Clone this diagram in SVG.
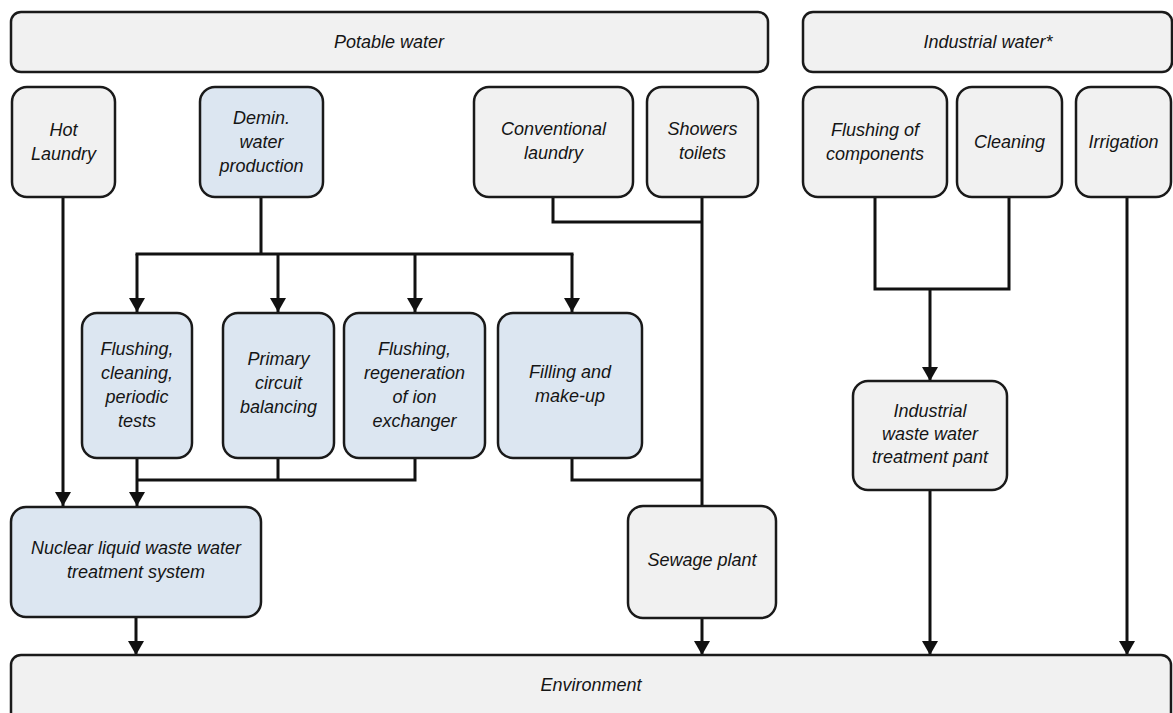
<svg xmlns="http://www.w3.org/2000/svg" width="1173" height="713" viewBox="0 0 1173 713">
  <style>
    .box { stroke: #1a1a1a; stroke-width: 2.5; }
    .grey { fill: #f1f1f1; }
    .blue { fill: #dce6f1; }
    .lbl { font-family: "Liberation Sans", Arial, sans-serif; font-style: italic; font-size: 18px; fill: #151515; text-anchor: middle; dominant-baseline: central; }
    .wire { fill: none; stroke: #111; stroke-width: 3; stroke-linejoin: miter; }
    .arrow { fill: none; stroke: #111; stroke-width: 3; marker-end: url(#head); }
  </style>
  <defs>
    <!-- filled triangular head, tip placed at the line end -->
    <marker id="head" markerUnits="userSpaceOnUse" markerWidth="14" markerHeight="16" refX="14" refY="8" orient="auto" viewBox="0 0 14 16">
      <path d="M0,0 L14,8 L0,16 Z" fill="#111"/>
    </marker>
  </defs>
  <rect width="1173" height="713" fill="#ffffff"/>

  <!-- connectors -->
  <g id="connectors">
    <!-- hot laundry to nuclear treatment -->
    <line class="arrow" x1="63" y1="197" x2="63" y2="506"/>
    <!-- demineralised water distribution -->
    <path class="wire" d="M261,197 V254 M135.5,254 H573.5"/>
    <line class="arrow" x1="137" y1="254" x2="137" y2="312"/>
    <line class="arrow" x1="278" y1="254" x2="278" y2="312"/>
    <line class="arrow" x1="415" y1="254" x2="415" y2="312"/>
    <line class="arrow" x1="572" y1="254" x2="572" y2="312"/>
    <!-- collection into nuclear treatment -->
    <path class="wire" d="M278,458 V480 M415,458 V480 M137,480 H416.5"/>
    <line class="arrow" x1="137" y1="458" x2="137" y2="506"/>
    <!-- filling and make-up to sewage -->
    <path class="wire" d="M572,458 V480 H702"/>
    <!-- conventional laundry and showers to sewage -->
    <path class="wire" d="M553,197 V222 H702"/>
    <path class="wire" d="M702,197 V506"/>
    <!-- outflows to environment -->
    <line class="arrow" x1="136" y1="617" x2="136" y2="655"/>
    <line class="arrow" x1="702" y1="618" x2="702" y2="655"/>
    <!-- industrial branch -->
    <path class="wire" d="M875,197 V289 H1009 V197"/>
    <line class="arrow" x1="930" y1="289" x2="930" y2="381"/>
    <line class="arrow" x1="930" y1="490" x2="930" y2="655"/>
    <line class="arrow" x1="1127" y1="197" x2="1127" y2="655"/>
  </g>

  <!-- supply headers -->
  <g id="potable-water">
    <rect class="box grey" x="11" y="12" width="757" height="60" rx="10"/>
    <text class="lbl" x="389" y="42">Potable water</text>
  </g>
  <g id="industrial-water">
    <rect class="box grey" x="803" y="12" width="369" height="60" rx="10"/>
    <text class="lbl" x="988" y="42">Industrial water*</text>
  </g>

  <!-- consumers -->
  <g id="hot-laundry">
    <rect class="box grey" x="12" y="87" width="103" height="110" rx="15"/>
    <text class="lbl" x="63.5" y="130">Hot</text>
    <text class="lbl" x="63.5" y="154">Laundry</text>
  </g>
  <g id="demin-water">
    <rect class="box blue" x="200" y="87" width="123" height="110" rx="15"/>
    <text class="lbl" x="261.5" y="118">Demin.</text>
    <text class="lbl" x="261.5" y="142">water</text>
    <text class="lbl" x="261.5" y="166">production</text>
  </g>
  <g id="conventional-laundry">
    <rect class="box grey" x="474" y="87" width="159" height="110" rx="15"/>
    <text class="lbl" x="553.5" y="129">Conventional</text>
    <text class="lbl" x="553.5" y="153">laundry</text>
  </g>
  <g id="showers-toilets">
    <rect class="box grey" x="647" y="87" width="111" height="110" rx="15"/>
    <text class="lbl" x="702.5" y="129">Showers</text>
    <text class="lbl" x="702.5" y="153">toilets</text>
  </g>
  <g id="flushing-components">
    <rect class="box grey" x="803" y="87" width="144" height="110" rx="15"/>
    <text class="lbl" x="875" y="130">Flushing of</text>
    <text class="lbl" x="875" y="154">components</text>
  </g>
  <g id="cleaning">
    <rect class="box grey" x="957" y="87" width="105" height="110" rx="15"/>
    <text class="lbl" x="1009.5" y="142">Cleaning</text>
  </g>
  <g id="irrigation">
    <rect class="box grey" x="1076" y="87" width="95" height="110" rx="15"/>
    <text class="lbl" x="1123.5" y="142">Irrigation</text>
  </g>

  <!-- demineralised water uses -->
  <g id="flushing-cleaning-tests">
    <rect class="box blue" x="82" y="313" width="110" height="145" rx="15"/>
    <text class="lbl" x="137" y="349">Flushing,</text>
    <text class="lbl" x="137" y="373">cleaning,</text>
    <text class="lbl" x="137" y="397">periodic</text>
    <text class="lbl" x="137" y="421">tests</text>
  </g>
  <g id="primary-circuit">
    <rect class="box blue" x="223" y="313" width="111" height="145" rx="15"/>
    <text class="lbl" x="278.5" y="359">Primary</text>
    <text class="lbl" x="278.5" y="383">circuit</text>
    <text class="lbl" x="278.5" y="407">balancing</text>
  </g>
  <g id="ion-exchanger">
    <rect class="box blue" x="344" y="313" width="141" height="145" rx="15"/>
    <text class="lbl" x="414.5" y="349">Flushing,</text>
    <text class="lbl" x="414.5" y="373">regeneration</text>
    <text class="lbl" x="414.5" y="397">of ion</text>
    <text class="lbl" x="414.5" y="421">exchanger</text>
  </g>
  <g id="filling-makeup">
    <rect class="box blue" x="498" y="313" width="144" height="145" rx="15"/>
    <text class="lbl" x="570" y="372">Filling and</text>
    <text class="lbl" x="570" y="396">make-up</text>
  </g>

  <!-- treatment -->
  <g id="industrial-treatment">
    <rect class="box grey" x="853" y="381" width="154" height="109" rx="15"/>
    <text class="lbl" x="930" y="411">Industrial</text>
    <text class="lbl" x="930" y="434">waste water</text>
    <text class="lbl" x="930" y="457">treatment pant</text>
  </g>
  <g id="nuclear-treatment">
    <rect class="box blue" x="11" y="507" width="250" height="110" rx="15"/>
    <text class="lbl" x="136" y="548">Nuclear liquid waste water</text>
    <text class="lbl" x="136" y="572">treatment system</text>
  </g>
  <g id="sewage-plant">
    <rect class="box grey" x="628" y="506" width="148" height="112" rx="15"/>
    <text class="lbl" x="702" y="560">Sewage plant</text>
  </g>

  <!-- receiving environment -->
  <g id="environment">
    <rect class="box grey" x="11" y="655" width="1160" height="80" rx="10"/>
    <text class="lbl" x="591" y="685">Environment</text>
  </g>
</svg>
